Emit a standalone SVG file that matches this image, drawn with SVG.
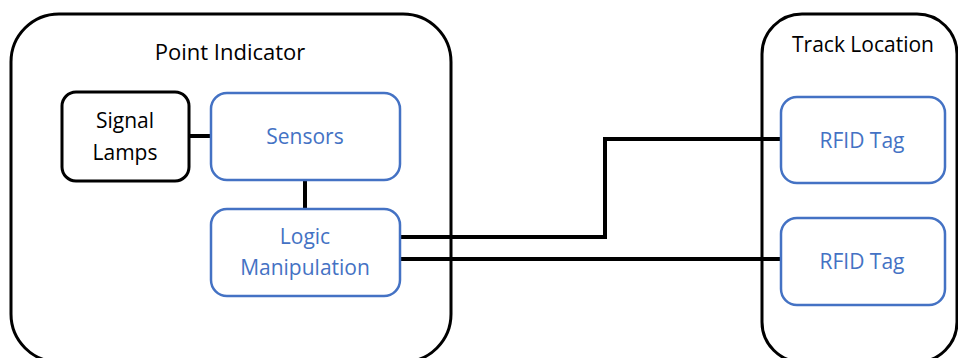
<svg xmlns="http://www.w3.org/2000/svg" width="958" height="358" viewBox="0 0 958 358">
  <style>
    .frame { fill: #fff; stroke: #000; stroke-width: 3; }
    .black { fill: #fff; stroke: #000; stroke-width: 3; }
    .blue { fill: #fff; stroke: #4472C4; stroke-width: 2.5; }
    .wire { fill: none; stroke: #000; stroke-width: 4; }
    text { font-family: "Open Sans", "Liberation Sans", sans-serif; font-size: 21px; text-anchor: middle; }
    .dark { fill: #000; }
    .lbl { fill: #4472C4; }
  </style>
  <rect width="958" height="358" fill="#fff"/>

  <!-- containers -->
  <g id="point-indicator">
    <rect class="frame" x="11" y="14" width="440" height="348" rx="48"/>
    <text class="dark" x="230" y="60" style="font-size:22px">Point Indicator</text>
  </g>
  <g id="track-location">
    <rect class="frame" x="762" y="14" width="195" height="348" rx="40"/>
    <text class="dark" x="863" y="52">Track Location</text>
  </g>

  <!-- connectors -->
  <g id="connectors">
    <line class="wire" x1="189" y1="136" x2="211" y2="136"/>
    <line class="wire" x1="305" y1="180" x2="305" y2="209"/>
    <polyline class="wire" points="400,237 605,237 605,139 781,139"/>
    <line class="wire" x1="400" y1="259" x2="781" y2="259"/>
  </g>

  <!-- inner nodes -->
  <g id="signal-lamps">
    <rect class="black" x="62" y="92" width="127" height="89" rx="14"/>
    <text class="dark" x="125" y="128">Signal</text>
    <text class="dark" x="125" y="160">Lamps</text>
  </g>
  <g id="sensors">
    <rect class="blue" x="211" y="93" width="189" height="87" rx="16"/>
    <text class="lbl" x="305" y="144">Sensors</text>
  </g>
  <g id="logic-manipulation">
    <rect class="blue" x="211" y="209" width="189" height="87" rx="16"/>
    <text class="lbl" x="305" y="244">Logic</text>
    <text class="lbl" x="305" y="275">Manipulation</text>
  </g>
  <g id="rfid-tag-1">
    <rect class="blue" x="781" y="97" width="164" height="86" rx="16"/>
    <text class="lbl" x="862" y="148">RFID Tag</text>
  </g>
  <g id="rfid-tag-2">
    <rect class="blue" x="781" y="218" width="164" height="87" rx="16"/>
    <text class="lbl" x="862" y="269">RFID Tag</text>
  </g>
</svg>
